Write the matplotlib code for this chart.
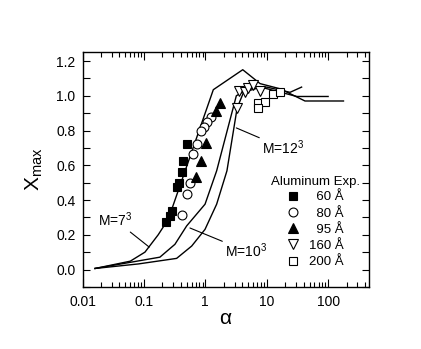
import numpy as np
import matplotlib
matplotlib.use('Agg')
from matplotlib import pyplot as plt
from matplotlib.ticker import LogLocator, MultipleLocator, FixedFormatter, FixedLocator

plt.rcParams['font.family'] = ['Liberation Sans', 'DejaVu Sans']
plt.rcParams['mathtext.fontset'] = 'custom'
plt.rcParams['mathtext.rm'] = 'Liberation Sans'
plt.rcParams['mathtext.it'] = 'Liberation Sans'

# simulation curves
m7_x = [0.016, 0.06, 0.104, 0.171, 0.25, 1.35, 4.07, 7.8, 16.6, 42, 178]
m7_y = [0.006, 0.048, 0.10, 0.20, 0.29, 1.035, 1.15, 1.07, 1.04, 0.97, 0.97]
m10_x = [0.016, 0.182, 0.32, 0.497, 0.99, 1.53, 3.2, 5.0, 10.0, 24.0, 37.0]
m10_y = [0.006, 0.071, 0.145, 0.251, 0.376, 0.568, 1.0, 1.04, 1.05, 1.02, 1.05]
m12_x = [0.016, 0.081, 0.341, 0.60, 0.989, 1.53, 2.25, 3.3, 4.2, 8.0, 31.0, 100.0]
m12_y = [0.006, 0.032, 0.064, 0.135, 0.231, 0.376, 0.568, 0.93, 1.02, 1.05, 0.996, 0.996]

# aluminum experiment
al60_x = [0.502, 0.433, 0.417, 0.372, 0.345, 0.286, 0.266, 0.228]
al60_y = [0.724, 0.626, 0.562, 0.498, 0.476, 0.337, 0.308, 0.273]
al80_x = [1.24, 1.07, 0.953, 0.851, 0.733, 0.63, 0.562, 0.502, 0.417]
al80_y = [0.88, 0.851, 0.822, 0.799, 0.724, 0.666, 0.499, 0.435, 0.314]
al95_x = [1.74, 1.50, 1.03, 0.835, 0.718]
al95_y = [0.961, 0.915, 0.73, 0.626, 0.531]
al160_x = [3.29, 3.55, 4.44, 4.97, 6.0, 7.8]
al160_y = [0.927, 1.025, 1.019, 1.042, 1.06, 1.03]
al200_x = [7.24, 9.42, 7.24, 12.7, 16.6]
al200_y = [0.961, 0.967, 0.932, 1.013, 1.019]

fig = plt.figure(figsize=(4.21, 3.49), dpi=100)
ax = fig.add_axes([0.196, 0.178, 0.680, 0.672])

for cx, cy in [(m7_x, m7_y), (m10_x, m10_y), (m12_x, m12_y)]:
    ax.plot(cx, cy, '-', color='black', lw=1.0)

# figure space keeps the two-digit labels right-aligned with the three-digit ones
ax.plot(al60_x, al60_y, 's', ms=5.6, mfc='black', mec='black', mew=0.8, label=u'\u200760 \u00c5')
ax.plot(al80_x, al80_y, 'o', ms=6.4, mfc='white', mec='black', mew=0.8, label=u'\u200780 \u00c5')
ax.plot(al95_x, al95_y, '^', ms=6.8, mfc='black', mec='black', mew=0.8, label=u'\u200795 \u00c5')
ax.plot(al160_x, al160_y, 'v', ms=6.8, mfc='white', mec='black', mew=0.8, label=u'160 \u00c5')
ax.plot(al200_x, al200_y, 's', ms=5.6, mfc='white', mec='black', mew=0.8, label=u'200 \u00c5')

leg = ax.legend(title='Aluminum Exp.', loc='lower right', frameon=False, fontsize=9.5,
                title_fontsize=9.5, handletextpad=0.75, labelspacing=0.3,
                borderaxespad=0.3, handlelength=1.0, alignment='center',
                bbox_to_anchor=(1.0, 0.04))
leg._legend_box.sep = 2

arrow = dict(arrowstyle='-', color='black', lw=0.8, shrinkA=0, shrinkB=0)
ax.annotate('M=7$^3$', xy=(0.122, 0.129), xytext=(0.0178, 0.285), fontsize=10,
            va='center', arrowprops=arrow)
ax.annotate('M=10$^3$', xy=(0.562, 0.239), xytext=(2.1, 0.106), fontsize=10,
            va='center', arrowprops=arrow)
ax.annotate('M=12$^3$', xy=(3.2, 0.815), xytext=(8.4, 0.70), fontsize=10,
            va='center', arrowprops=arrow)

ax.set_xscale('log')
ax.set_xlim(0.01, 460)
ax.set_ylim(-0.1, 1.25)
ax.xaxis.set_major_locator(FixedLocator([0.01, 0.1, 1, 10, 100]))
ax.xaxis.set_major_formatter(FixedFormatter(['0.01', '0.1', '1', '10', '100']))
ax.xaxis.set_minor_locator(LogLocator(base=10, subs=np.arange(2, 10), numticks=20))
ax.yaxis.set_major_locator(MultipleLocator(0.2))
ax.yaxis.set_minor_locator(MultipleLocator(0.1))
ax.yaxis.set_major_formatter(matplotlib.ticker.FormatStrFormatter('%.1f'))

ax.tick_params(which='both', direction='in', top=True, right=True, labelsize=10, width=0.8)
ax.tick_params(axis='x', which='major', length=6, pad=6)
ax.tick_params(axis='x', which='minor', length=3.5)
ax.tick_params(axis='y', which='both', length=5, pad=5)
for s in ax.spines.values():
    s.set_linewidth(1.0)

ax.set_xlabel(u'\u03b1', fontsize=15, labelpad=0)
ax.set_ylabel('X$_{\\mathrm{max}}$', fontsize=15, labelpad=8)

fig.savefig('out.png', dpi=100)
